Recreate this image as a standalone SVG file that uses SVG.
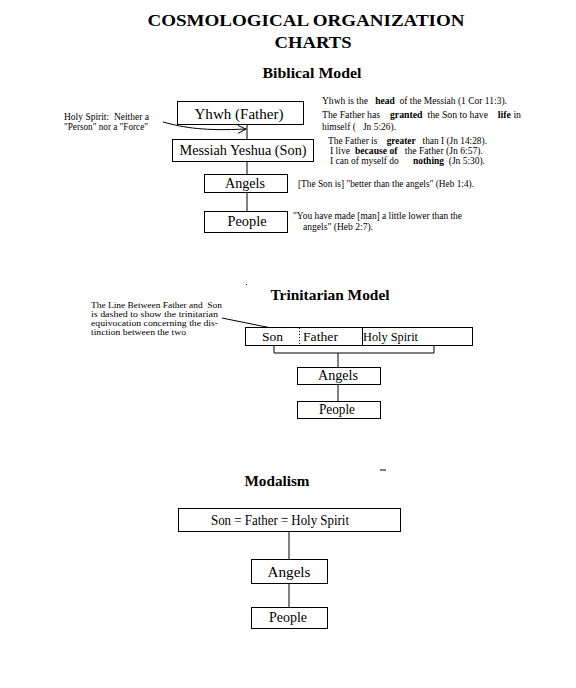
<svg xmlns="http://www.w3.org/2000/svg" width="576" height="688" viewBox="0 0 576 688">
<style>
text{font-family:"Liberation Serif","Times New Roman",serif;fill:#000}
.title{font-weight:bold;font-size:17px}
.sub{font-weight:bold;font-size:15px}
.box{fill:#fff;stroke:#000;stroke-width:1}
.lbl{font-size:14px;text-anchor:middle}
.note{font-size:9.5px}
.tn{font-size:8.6px}
.conn{stroke:#000;stroke-width:1;fill:none}
</style>
<defs>
<marker id="chev" markerWidth="10" markerHeight="10" refX="9" refY="5" orient="auto" markerUnits="userSpaceOnUse">
<path d="M1,1 L9,5 L1,9" fill="none" stroke="#000" stroke-width="1"/>
</marker>
<marker id="chevs" markerWidth="8" markerHeight="8" refX="7" refY="4" orient="auto" markerUnits="userSpaceOnUse">
<path d="M1,1.5 L7,4 L1,6.5" fill="none" stroke="#000" stroke-width="1"/>
</marker>
</defs>
<rect width="576" height="688" fill="#fff"/>

<g id="titles">
<text class="title" x="306" y="26" text-anchor="middle" textLength="317" lengthAdjust="spacingAndGlyphs">COSMOLOGICAL ORGANIZATION</text>
<text class="title" x="313" y="48" text-anchor="middle" textLength="77" lengthAdjust="spacingAndGlyphs">CHARTS</text>
<text class="sub" x="312" y="78" text-anchor="middle" textLength="99" lengthAdjust="spacingAndGlyphs">Biblical Model</text>
<text class="sub" x="330" y="300" text-anchor="middle" textLength="119" lengthAdjust="spacingAndGlyphs">Trinitarian Model</text>
<text class="sub" x="277" y="486" text-anchor="middle" textLength="65" lengthAdjust="spacingAndGlyphs">Modalism</text>
<rect x="246" y="284" width="1" height="1" fill="#000"/>
<line x1="380" y1="470" x2="386" y2="470" stroke="#000" stroke-width="1"/>
</g>

<g id="connectors">
<line class="conn" x1="247" y1="124" x2="247" y2="139"/>
<line class="conn" x1="247" y1="161" x2="247" y2="174"/>
<line class="conn" x1="247" y1="192" x2="247" y2="211"/>
<path class="conn" d="M163,122 C185,128 205,131 246,129" marker-end="url(#chev)"/>
<path class="conn" d="M274,345 V353 H434 V345"/>
<line class="conn" x1="338" y1="353" x2="338" y2="367"/>
<line class="conn" x1="338" y1="384" x2="338" y2="401"/>
<line class="conn" x1="222" y1="318" x2="296" y2="333" marker-end="url(#chevs)"/>
<line class="conn" x1="289" y1="531" x2="289" y2="559"/>
<line class="conn" x1="289" y1="583" x2="289" y2="607"/>
</g>

<g id="biblical-yhwh">
<rect class="box" x="177.5" y="101.5" width="126" height="23"/>
<text class="lbl" x="239" y="119" font-size="15" textLength="89" lengthAdjust="spacingAndGlyphs">Yhwh (Father)</text>
</g>
<g id="biblical-messiah">
<rect class="box" x="172.5" y="139.5" width="141" height="22"/>
<text class="lbl" x="243" y="155" font-size="13" textLength="127" lengthAdjust="spacingAndGlyphs">Messiah Yeshua (Son)</text>
</g>
<g id="biblical-angels">
<rect class="box" x="204.5" y="174.5" width="83" height="18"/>
<text class="lbl" x="245" y="188" textLength="40" lengthAdjust="spacingAndGlyphs">Angels</text>
</g>
<g id="biblical-people">
<rect class="box" x="204.5" y="211.5" width="83" height="21"/>
<text class="lbl" x="247" y="226" textLength="39" lengthAdjust="spacingAndGlyphs">People</text>
</g>

<g id="note-holy-spirit">
<text class="note" x="64" y="120" xml:space="preserve" textLength="85" lengthAdjust="spacingAndGlyphs">Holy Spirit:  Neither a</text>
<text class="note" x="64" y="130" textLength="84" lengthAdjust="spacingAndGlyphs">"Person" nor a "Force"</text>
</g>

<g id="note-father">
<text class="note" x="322" y="104" xml:space="preserve" textLength="185" lengthAdjust="spacingAndGlyphs">Yhwh is the   <tspan font-weight="bold">head</tspan>  of the Messiah (1 Cor 11:3).</text>
<text class="note" x="322" y="118" xml:space="preserve" textLength="199" lengthAdjust="spacingAndGlyphs">The Father has    <tspan font-weight="bold">granted</tspan>  the Son to have    <tspan font-weight="bold">life</tspan> in</text>
<text class="note" x="322" y="130" xml:space="preserve" textLength="74" lengthAdjust="spacingAndGlyphs">himself (   Jn 5:26).</text>
</g>
<g id="note-son">
<text class="note" x="328" y="144" xml:space="preserve" textLength="159" lengthAdjust="spacingAndGlyphs">The Father is    <tspan font-weight="bold">greater</tspan>   than I (Jn 14:28).</text>
<text class="note" x="330" y="154" xml:space="preserve" textLength="153" lengthAdjust="spacingAndGlyphs">I live  <tspan font-weight="bold">because of</tspan>   the Father (Jn 6:57).</text>
<text class="note" x="330" y="164" xml:space="preserve" textLength="155" lengthAdjust="spacingAndGlyphs">I can of myself do      <tspan font-weight="bold">nothing</tspan>  (Jn 5:30).</text>
</g>
<g id="note-angels">
<text class="note" x="298" y="187" textLength="176" lengthAdjust="spacingAndGlyphs">[The Son is] "better than the angels" (Heb 1:4).</text>
</g>
<g id="note-people">
<text class="note" x="293" y="219" textLength="169" lengthAdjust="spacingAndGlyphs">"You have made [man] a little lower than the</text>
<text class="note" x="303" y="230" textLength="70" lengthAdjust="spacingAndGlyphs">angels" (Heb 2:7).</text>
</g>

<g id="note-trinitarian">
<text class="tn" x="91" y="308" xml:space="preserve" textLength="131" lengthAdjust="spacingAndGlyphs">The Line Between Father and  Son</text>
<text class="tn" x="91" y="317" textLength="127" lengthAdjust="spacingAndGlyphs">is dashed to show the trinitarian</text>
<text class="tn" x="91" y="326" textLength="127" lengthAdjust="spacingAndGlyphs">equivocation concerning the dis-</text>
<text class="tn" x="91" y="335" textLength="95" lengthAdjust="spacingAndGlyphs">tinction between the two</text>
</g>

<g id="trinity-box">
<rect class="box" x="245.5" y="327.5" width="227" height="18"/>
<line x1="299.5" y1="328" x2="299.5" y2="345" stroke="#000" stroke-width="1" stroke-dasharray="1,2"/>
<line x1="362.5" y1="328" x2="362.5" y2="345" stroke="#000" stroke-width="1"/>
<text x="262" y="341" font-size="13" textLength="21" lengthAdjust="spacingAndGlyphs">Son</text>
<text x="303" y="341" font-size="13" textLength="35" lengthAdjust="spacingAndGlyphs">Father</text>
<text x="363" y="341" font-size="13" textLength="55" lengthAdjust="spacingAndGlyphs">Holy Spirit</text>
</g>
<g id="trinitarian-angels">
<rect class="box" x="297.5" y="367.5" width="83" height="17"/>
<text class="lbl" x="338" y="380" font-size="13" textLength="40" lengthAdjust="spacingAndGlyphs">Angels</text>
</g>
<g id="trinitarian-people">
<rect class="box" x="297.5" y="401.5" width="83" height="17"/>
<text class="lbl" x="337" y="414" font-size="12" textLength="36" lengthAdjust="spacingAndGlyphs">People</text>
</g>

<g id="modal-box">
<rect class="box" x="178.5" y="508.5" width="222" height="23"/>
<text class="lbl" x="280" y="525" font-size="13" textLength="138" lengthAdjust="spacingAndGlyphs">Son = Father = Holy Spirit</text>
</g>
<g id="modal-angels">
<rect class="box" x="251.5" y="559.5" width="76" height="24"/>
<text class="lbl" x="289" y="577" font-size="13" textLength="43" lengthAdjust="spacingAndGlyphs">Angels</text>
</g>
<g id="modal-people">
<rect class="box" x="251.5" y="607.5" width="76" height="21"/>
<text class="lbl" x="288" y="622" font-size="12" textLength="38" lengthAdjust="spacingAndGlyphs">People</text>
</g>
</svg>
